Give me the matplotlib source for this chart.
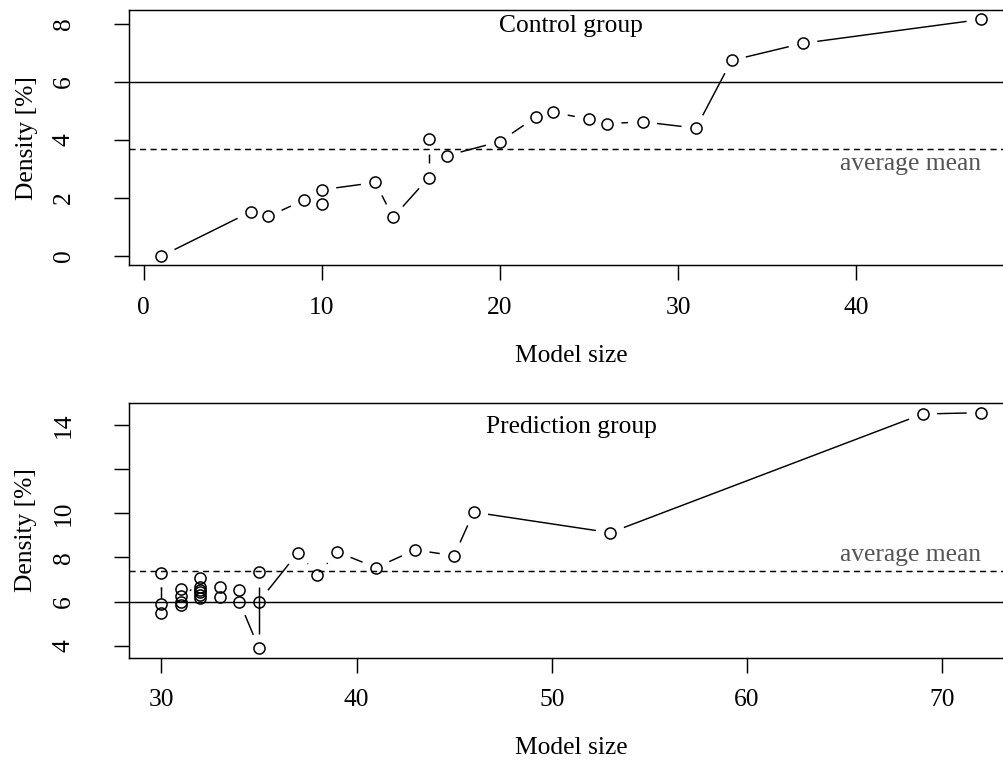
import numpy as np
import matplotlib
matplotlib.use("Agg")
import matplotlib.pyplot as plt

plt.rcParams['font.family'] = ['Liberation Serif', 'DejaVu Serif']
plt.rcParams['font.size'] = 18.4

# control group
ctrl_size = [1, 6, 7, 9, 10, 10, 13, 14, 16, 16, 17, 20, 22, 23, 25, 26, 28, 31, 33, 37, 47]
ctrl_density = [0.0, 1.52, 1.36, 1.93, 1.78, 2.28, 2.53, 1.33, 2.70, 4.02, 3.45,
                3.94, 4.78, 4.94, 4.71, 4.55, 4.62, 4.40, 6.73, 7.32, 8.14]

# prediction group
pred_size = [30, 30, 30, 31, 31, 31, 31, 32, 32, 32, 32, 32, 32, 33, 33, 34, 34,
             35, 35, 35, 37, 38, 39, 41, 43, 45, 46, 53, 69, 72]
pred_density = [5.90, 7.30, 5.50, 5.83, 6.55, 6.27, 5.98, 7.06, 6.68, 6.53, 6.43, 6.30, 6.15,
                6.68, 6.22, 6.52, 6.00, 3.89, 7.33, 6.00, 8.22, 7.21, 8.25, 7.54,
                8.34, 8.08, 10.05, 9.12, 14.49, 14.55]

ref_level = 6

fig = plt.figure(figsize=(10.04, 7.62), dpi=100)
ax1 = fig.add_axes([0.1282, 0.6516, 0.8816, 0.3353])
ax2 = fig.add_axes([0.1280, 0.1369, 0.8820, 0.3339])


def rlim(v):
    lo, hi = min(v), max(v)
    e = 0.04 * (hi - lo)
    return lo - e, hi + e


def gapped(ax, xs, ys, gap=14.5):
    # type="b" style: segments stop short of the points
    pts = ax.transData.transform(np.column_stack([xs, ys]))
    inv = ax.transData.inverted()
    for p, q in zip(pts[:-1], pts[1:]):
        d = q - p
        L = np.hypot(d[0], d[1])
        if L <= 2 * gap:
            continue
        u = d / L
        a, b = inv.transform([p + u * gap, q - u * gap])
        ax.plot([a[0], b[0]], [a[1], b[1]], color='black', lw=1.05,
                solid_capstyle='butt')


def panel(ax, xs, ys, title, title_y, yticks, ylabels, below):
    ax.set_xlim(rlim(xs))
    ax.set_ylim(rlim(ys))
    mean = np.mean(ys)
    ax.axhline(ref_level, color='black', lw=1.05)
    ax.axhline(mean, color='black', lw=1.05, dashes=(4.2, 3.0))
    ax.plot(xs, ys, 'o', ms=8, mfc='none', mec='black', mew=1.1)
    gapped(ax, xs, ys)
    off = -14.5 if below else 7.5
    ax.annotate('average mean', xy=(max(xs), mean), xytext=(0, off),
                textcoords='offset points', ha='right', va='baseline',
                color='#555555')
    ax.annotate(title, xy=((min(xs) + max(xs)) / 2, title_y), xytext=(0, -6),
                textcoords='offset points', ha='center', va='baseline')
    ax.set_yticks(yticks)
    ax.set_yticklabels(ylabels, rotation=90, va='center')
    ax.set_xlabel('Model size', labelpad=18.5)
    ax.set_ylabel('Density [%]', labelpad=11)
    ax.tick_params(direction='out', length=10.8, width=1.05, pad=12)
    ax.tick_params(axis='y', pad=28)
    for s in ax.spines.values():
        s.set_linewidth(1.05)


panel(ax1, ctrl_size, ctrl_density, 'Control group', 8, [0, 2, 4, 6, 8],
      ['0', '2', '4', '6', '8'], True)
ax1.set_xticks([0, 10, 20, 30, 40])

panel(ax2, pred_size, pred_density, 'Prediction group', 14, [4, 6, 8, 10, 12, 14],
      ['4', '6', '8', '10', '', '14'], False)
ax2.set_xticks([30, 40, 50, 60, 70])

fig.savefig('out.png', dpi=100)
